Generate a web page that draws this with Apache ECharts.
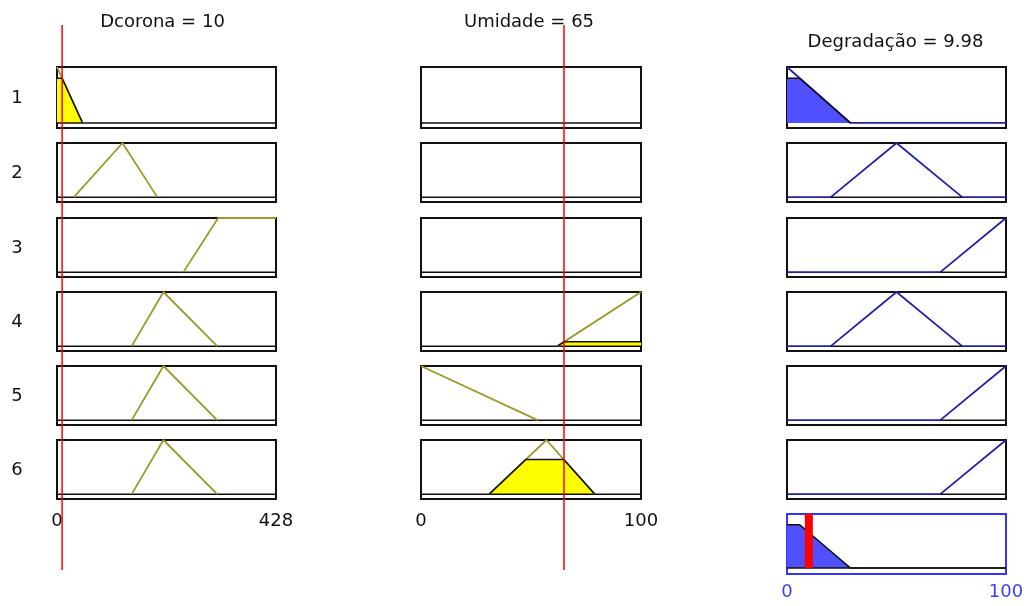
<!DOCTYPE html>
<html>
<head>
<meta charset="utf-8">
<script src="https://cdn.jsdelivr.net/npm/echarts@6/dist/echarts.min.js"></script>
<style>
  html, body { margin: 0; padding: 0; background: #fff; }
  #chart { width: 1029px; height: 606px; }
</style>
</head>
<body>
<div id="chart"></div>
<script>
// Fuzzy rule viewer: Dcorona, Umidade -> Degradação (6 rules)

const ruleLabels = ['1', '2', '3', '4', '5', '6'];

const dcoronaName = 'Dcorona';
const umidadeName = 'Umidade';
const degradacaoName = 'Degradação';

const dcoronaValue = 10;
const umidadeValue = 65;
const degradacaoValue = 9.98;

const dcoronaRange = [0, 428];
const umidadeRange = [0, 100];
const degradacaoRange = [0, 100];

// Membership function vertices [x, degree] used by each rule (null: input not used)
const dcoronaMF = [
  [[0, 1], [50, 0]],
  [[33, 0], [128, 1], [196, 0]],
  [[247, 0], [315, 1], [428, 1]],
  [[146, 0], [208, 1], [313, 0]],
  [[146, 0], [208, 1], [313, 0]],
  [[146, 0], [208, 1], [313, 0]]
];
const umidadeMF = [
  null,
  null,
  null,
  [[62, 0], [100, 1]],
  [[0, 1], [53, 0]],
  [[31, 0], [57, 1], [79, 0]]
];
const degradacaoMF = [
  [[0, 1], [29, 0]],
  [[20, 0], [50, 1], [80, 0]],
  [[70, 0], [100, 1]],
  [[20, 0], [50, 1], [80, 0]],
  [[70, 0], [100, 1]],
  [[70, 0], [100, 1]]
];

// Membership degree of the current inputs in each rule's set
const dcoronaDegree = [0.8, 0, 0, 0, 0, 0];
const umidadeDegree = [null, null, null, 0.08, 0, 0.64];
// Firing strength of each rule (implication level on the output)
const ruleStrength = [0.8, 0, 0, 0, 0, 0];

// ---- styling / layout ----
const FONT = 'DejaVu Sans';
const OLIVE = '#9a9a2a';
const YELLOW = '#ffff00';
const NAVY = '#2222a8';
const BLUE_FILL = '#5050ff';
const BLUE_TEXT = '#3d3dff';
const RED = '#ff0000';

const colLeft = [57, 421, 787];
const colWidth = [219, 220, 219];
const rowTop = [67, 143, 218, 292, 366, 440];
const rowHeight = [61, 59, 59, 59, 59, 59];
const aggTop = 514, aggHeight = 60;

// Cut a piecewise-linear membership function at a level (min operator)
function clipAt(pts, level) {
  const out = [];
  for (let i = 0; i < pts.length; i++) {
    const [x, y] = pts[i];
    if (i > 0) {
      const [px, py] = pts[i - 1];
      if ((py - level) * (y - level) < 0) {
        const t = (level - py) / (y - py);
        out.push([px + t * (x - px), level]);
      }
    }
    out.push([x, Math.min(y, level)]);
  }
  return out;
}

// Value of a piecewise-linear set at x (zero outside its support)
function degreeAt(pts, x) {
  if (x < pts[0][0] || x > pts[pts.length - 1][0]) return 0;
  for (let i = 1; i < pts.length; i++) {
    const [x0, y0] = pts[i - 1], [x1, y1] = pts[i];
    if (x >= x0 && x <= x1) return x1 === x0 ? Math.max(y0, y1) : y0 + (y1 - y0) * (x - x0) / (x1 - x0);
  }
  return 0;
}

// Extend an output set with zero degree up to the ends of its range
function padToRange(pts, range) {
  const out = pts.slice();
  if (out[0][1] === 0 && out[0][0] > range[0]) out.unshift([range[0], 0]);
  const last = out[out.length - 1];
  if (last[1] === 0 && last[0] < range[1]) out.push([range[1], 0]);
  return out;
}

// Aggregated output: max over the clipped rule outputs
const clippedOutputs = degradacaoMF.map((mf, i) => clipAt(mf, ruleStrength[i]));
const aggXs = Array.from(new Set(clippedOutputs.flat().map(p => p[0])
  .concat(degradacaoRange))).sort((a, b) => a - b);
const aggregated = aggXs.map(x => [x, Math.max(...clippedOutputs.map(c => degreeAt(c, x)))]);

const grids = [], xAxes = [], yAxes = [], series = [];

function addGrid(left, top, width, height, range, yMin, opts) {
  const idx = grids.length;
  grids.push({
    left, top, width, height,
    show: !!opts.border,
    borderColor: opts.borderColor || '#111111',
    borderWidth: opts.border || 0,
    backgroundColor: 'transparent'
  });
  xAxes.push({
    gridIndex: idx, type: 'value', min: range[0], max: range[1],
    interval: range[1] - range[0],
    axisLine: { show: false }, axisTick: { show: false }, splitLine: { show: false },
    axisLabel: {
      show: !!opts.labels, fontFamily: FONT, fontSize: 18,
      color: opts.labelColor || '#111', margin: opts.labelMargin || 12,
      showMinLabel: true, showMaxLabel: true
    }
  });
  yAxes.push({ gridIndex: idx, type: 'value', min: yMin, max: 1, show: false });
  return idx;
}

function line(idx, data, color, width, extra) {
  series.push(Object.assign({
    type: 'line', xAxisIndex: idx, yAxisIndex: idx, data,
    showSymbol: false, symbol: 'none', silent: true, animation: false,
    lineStyle: { color, width }
  }, extra || {}));
}

// input columns
const inputs = [
  { mf: dcoronaMF, deg: dcoronaDegree, range: dcoronaRange },
  { mf: umidadeMF, deg: umidadeDegree, range: umidadeRange }
];
inputs.forEach((inp, c) => {
  for (let r = 0; r < 6; r++) {
    const idx = addGrid(colLeft[c], rowTop[r], colWidth[c], rowHeight[r], inp.range, -0.09,
      { border: 2, labels: r === 5, labelMargin: 13 });
    line(idx, [[inp.range[0], 0], [inp.range[1], 0]], '#111', 1.5);
    const mf = inp.mf[r];
    if (mf) {
      line(idx, mf, OLIVE, 1.8);
      if (inp.deg[r] > 0) {
        line(idx, clipAt(mf, inp.deg[r]), '#111', 1.5,
          { areaStyle: { color: YELLOW, opacity: 1, origin: 0 } });
      }
    }
  }
});

// output column
for (let r = 0; r < 6; r++) {
  const idx = addGrid(colLeft[2], rowTop[r], colWidth[2], rowHeight[r], degradacaoRange, -0.09,
    { border: 2 });
  line(idx, padToRange(degradacaoMF[r], degradacaoRange), NAVY, 1.8);
  const cut = clippedOutputs[r];
  line(idx, cut, '#111', 1.5,
    ruleStrength[r] > 0 ? { areaStyle: { color: BLUE_FILL, opacity: 1, origin: 0 } } : {});
}

// aggregated output with the defuzzified value
const aggIdx = addGrid(colLeft[2], aggTop, colWidth[2], aggHeight, degradacaoRange, -0.11,
  { border: 2, borderColor: '#3434ff', labels: true, labelColor: BLUE_TEXT, labelMargin: 9 });
line(aggIdx, [[degradacaoRange[0], 0], [degradacaoRange[1], 0]], '#111', 1.5);
line(aggIdx, aggregated, '#111', 1.5, { areaStyle: { color: BLUE_FILL, opacity: 1, origin: 0 } });
line(aggIdx, [[degradacaoValue, 0], [degradacaoValue, 1]], RED, 8);

// input value markers spanning all rules
[[dcoronaValue, dcoronaRange], [umidadeValue, umidadeRange]].forEach(([v, range], c) => {
  const idx = addGrid(colLeft[c], 25, colWidth[c], 545, range, 0, {});
  line(idx, [[v, 0], [v, 1]], RED, 1.5, { z: 10 });
});

// titles and rule numbers
const texts = [
  { text: dcoronaName + ' = ' + dcoronaValue, x: colLeft[0] + colWidth[0] / 2 - 4, y: 22 },
  { text: umidadeName + ' = ' + umidadeValue, x: colLeft[1] + colWidth[1] / 2 - 2, y: 22 },
  { text: degradacaoName + ' = ' + degradacaoValue, x: colLeft[2] + colWidth[2] / 2 - 1, y: 42 }
].concat(ruleLabels.map((t, r) => ({ text: t, x: 17, y: rowTop[r] + rowHeight[r] / 2 + 1 })));

const graphic = texts.map(t => ({
  type: 'text', x: t.x, y: t.y, silent: true,
  style: {
    text: t.text, fill: '#111111', font: '18px "' + FONT + '"',
    textAlign: 'center', textVerticalAlign: 'middle'
  }
}));

const chart = echarts.init(document.getElementById('chart'), null, { renderer: 'canvas' });
chart.setOption({
  animation: false,
  backgroundColor: '#ffffff',
  grid: grids,
  xAxis: xAxes,
  yAxis: yAxes,
  series,
  graphic
});
</script>
</body>
</html>
